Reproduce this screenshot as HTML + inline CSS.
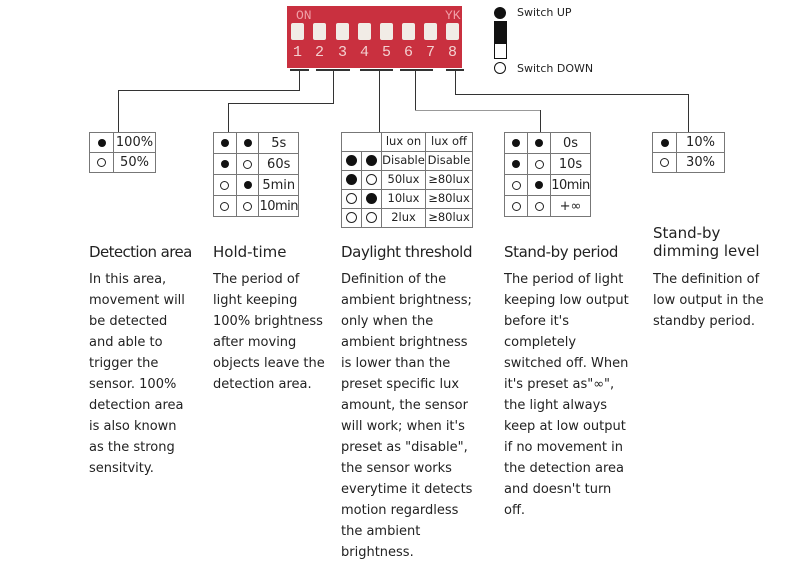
<!DOCTYPE html>
<html><head><meta charset="utf-8"><style>
body{margin:0;width:810px;height:568px;background:#fff;position:relative;overflow:hidden;font-family:"DejaVu Sans","Liberation Sans",sans-serif;color:#222}
.a{position:absolute}
.l{position:absolute;background:#333}
table{position:absolute;border-collapse:collapse;font-size:13px;color:#222}
td{border:1px solid #777;text-align:center;padding:0;line-height:1}
.f,.o{display:inline-block;width:8px;height:8px;border-radius:50%;vertical-align:middle}
.f{background:#111}.o{border:1px solid #222;box-sizing:border-box;width:9px;height:9px}
.F,.O{display:inline-block;width:11px;height:11px;border-radius:50%;box-sizing:border-box;vertical-align:middle}
.F{background:#111}.O{border:1.5px solid #222}
h3{position:absolute;margin:0;font-weight:normal;font-size:15px;color:#222;white-space:nowrap}
p{position:absolute;margin:0;font-size:13px;line-height:21px;color:#222}
.sw{position:absolute;top:23px;width:13px;height:17px;background:#f1ece6;border-radius:2px}
.n{position:absolute;top:44px;color:#f3d0d0;font-size:15px;font-family:"Liberation Mono",monospace}
</style></head><body>
<div class="a" style="left:287px;top:6px;width:175px;height:62px;background:#c9303f"></div>
<div class="a" style="left:296px;top:8px;color:#f0a0a8;font-size:13px;font-family:'Liberation Mono',monospace">ON</div>
<div class="a" style="left:445px;top:8px;color:#f0a0a8;font-size:13px;font-family:'Liberation Mono',monospace">YK</div>
<div class="sw" style="left:291px"></div><div class="sw" style="left:313px"></div><div class="sw" style="left:336px"></div><div class="sw" style="left:358px"></div><div class="sw" style="left:380px"></div><div class="sw" style="left:402px"></div><div class="sw" style="left:424px"></div><div class="sw" style="left:446px"></div>
<div class="n" style="left:293px">1</div><div class="n" style="left:315px">2</div><div class="n" style="left:338px">3</div><div class="n" style="left:360px">4</div><div class="n" style="left:382px">5</div><div class="n" style="left:404px">6</div><div class="n" style="left:426px">7</div><div class="n" style="left:448px">8</div>
<div class="l" style="left:290px;top:69px;width:19px;height:2px"></div>
<div class="l" style="left:316px;top:69px;width:34px;height:2px"></div>
<div class="l" style="left:360px;top:69px;width:33px;height:2px"></div>
<div class="l" style="left:400px;top:69px;width:33px;height:2px"></div>
<div class="l" style="left:446px;top:69px;width:18px;height:2px"></div>
<div class="l" style="left:299px;top:71px;width:1px;height:20px"></div>
<div class="l" style="left:118px;top:90px;width:182px;height:1px"></div>
<div class="l" style="left:118px;top:90px;width:1px;height:42px"></div>
<div class="l" style="left:333px;top:71px;width:1px;height:33px"></div>
<div class="l" style="left:228px;top:103px;width:106px;height:1px"></div>
<div class="l" style="left:228px;top:103px;width:1px;height:29px"></div>
<div class="l" style="left:379px;top:71px;width:1px;height:61px"></div>
<div class="l" style="left:415px;top:71px;width:1px;height:40px"></div>
<div class="l" style="left:415px;top:110px;width:125px;height:1px;background:#999"></div>
<div class="l" style="left:540px;top:110px;width:1px;height:22px"></div>
<div class="l" style="left:455px;top:71px;width:1px;height:24px"></div>
<div class="l" style="left:455px;top:94px;width:233px;height:1px"></div>
<div class="l" style="left:688px;top:94px;width:1px;height:38px"></div>
<div class="a" style="left:494px;top:7px;width:12px;height:12px;border-radius:50%;background:#111"></div>
<div class="a" style="left:517px;top:6px;font-size:11px">Switch UP</div>
<div class="a" style="left:494px;top:21px;width:11px;height:36px;border:1px solid #111;background:#fff"></div>
<div class="a" style="left:494px;top:21px;width:13px;height:23px;background:#111"></div>
<div class="a" style="left:494px;top:62px;width:12px;height:12px;border-radius:50%;border:1.5px solid #111;box-sizing:border-box"></div>
<div class="a" style="left:517px;top:62px;font-size:11px">Switch DOWN</div>
<table style="left:89px;top:132px;width:67px"><tr style="height:20px"><td style="width:23px"><span class="f"></span></td><td>100%</td></tr><tr style="height:20px"><td><span class="o"></span></td><td>50%</td></tr></table>
<table style="left:213px;top:132px;width:86px"><tr style="height:21px"><td style="width:22px"><span class="f"></span></td><td style="width:22px"><span class="f"></span></td><td>5s</td></tr><tr style="height:21px"><td><span class="f"></span></td><td><span class="o"></span></td><td>60s</td></tr><tr style="height:21px"><td><span class="o"></span></td><td><span class="f"></span></td><td>5min</td></tr><tr style="height:21px"><td><span class="o"></span></td><td><span class="o"></span></td><td style="letter-spacing:-0.5px">10min</td></tr></table>
<table style="left:341px;top:132px;width:132px;font-size:11.5px"><tr style="height:19px"><td colspan="2" style="width:39px"></td><td style="width:43px">lux on</td><td>lux off</td></tr><tr style="height:19px"><td style="width:19px"><span class="F"></span></td><td style="width:19px"><span class="F"></span></td><td>Disable</td><td>Disable</td></tr><tr style="height:19px"><td><span class="F"></span></td><td><span class="O"></span></td><td>50lux</td><td>≥80lux</td></tr><tr style="height:19px"><td><span class="O"></span></td><td><span class="F"></span></td><td>10lux</td><td>≥80lux</td></tr><tr style="height:19px"><td><span class="O"></span></td><td><span class="O"></span></td><td>2lux</td><td>≥80lux</td></tr></table>
<table style="left:504px;top:132px;width:87px"><tr style="height:21px"><td style="width:22px"><span class="f"></span></td><td style="width:22px"><span class="f"></span></td><td>0s</td></tr><tr style="height:21px"><td><span class="f"></span></td><td><span class="o"></span></td><td>10s</td></tr><tr style="height:21px"><td><span class="o"></span></td><td><span class="f"></span></td><td style="letter-spacing:-0.5px">10min</td></tr><tr style="height:21px"><td><span class="o"></span></td><td><span class="o"></span></td><td>+∞</td></tr></table>
<table style="left:652px;top:132px;width:73px"><tr style="height:20px"><td style="width:23px"><span class="f"></span></td><td>10%</td></tr><tr style="height:20px"><td><span class="o"></span></td><td>30%</td></tr></table>
<h3 style="left:89px;top:243px;letter-spacing:-0.6px">Detection area</h3>
<h3 style="left:213px;top:243px">Hold-time</h3>
<h3 style="left:341px;top:243px;letter-spacing:-0.4px">Daylight threshold</h3>
<h3 style="left:504px;top:243px;letter-spacing:-0.4px">Stand-by period</h3>
<h3 style="left:653px;top:224px;line-height:18px;font-size:15px">Stand-by<br>dimming level</h3>
<p style="left:89px;top:269px;width:115px">In this area,<br>movement will<br>be detected<br>and able to<br>trigger the<br>sensor. 100%<br>detection area<br>is also known<br>as the strong<br>sensitvity.</p>
<p style="left:213px;top:269px;width:125px">The period of<br>light keeping<br>100% brightness<br>after moving<br>objects leave the<br>detection area.</p>
<p style="left:341px;top:269px;width:150px">Definition of the<br>ambient brightness;<br>only when the<br>ambient brightness<br>is lower than the<br>preset specific lux<br>amount, the sensor<br>will work; when it's<br>preset as "disable",<br>the sensor works<br>everytime it detects<br>motion regardless<br>the ambient<br>brightness.</p>
<p style="left:504px;top:269px;width:145px">The period of light<br>keeping low output<br>before it's<br>completely<br>switched off. When<br>it's preset as"∞",<br>the light always<br>keep at low output<br>if no movement in<br>the detection area<br>and doesn't turn<br>off.</p>
<p style="left:653px;top:269px;width:150px">The definition of<br>low output in the<br>standby period.</p>
</body></html>
